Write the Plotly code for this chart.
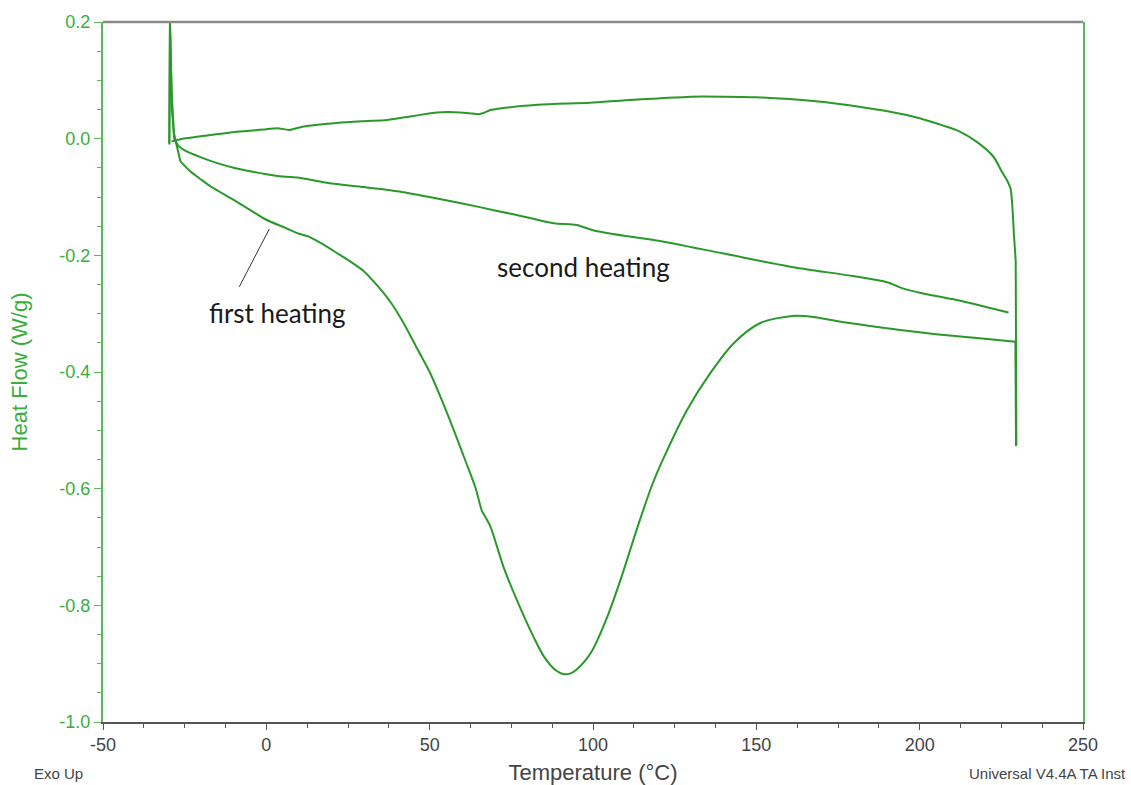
import plotly.graph_objects as go

# ---- data ----
first_T = [-29.7, -29.5, -29.0, -28.3, -27.5, -26.8, -26.3, -23.3, -20.0, -17.0, -10.0, -5.0, 0.0,
           5.0, 10.0, 13.0, 17.0, 21.6, 25.0, 30.0, 34.0, 38.0, 42.0, 46.0, 50.0, 54.0, 57.2,
           61.0, 64.0, 66.0, 67.0, 68.6, 72.6, 76.7, 81.8, 85.0, 88.5, 91.0, 93.0, 95.0, 99.5,
           104.0, 108.5, 113.5, 118.0, 121.0, 128.8, 135.9, 143.0, 151.2, 161.0, 168.0, 175.0,
           190.0, 200.0, 210.0, 220.0, 229.3, 229.5]
first_HF = [-0.008, 0.200, 0.080, 0.010, -0.010, -0.030, -0.039, -0.056, -0.070, -0.082, -0.105,
            -0.122, -0.139, -0.151, -0.163, -0.168, -0.180, -0.196, -0.208, -0.228, -0.252,
            -0.280, -0.316, -0.358, -0.400, -0.452, -0.497, -0.553, -0.598, -0.638, -0.648,
            -0.665, -0.734, -0.791, -0.854, -0.888, -0.911, -0.918, -0.917, -0.910, -0.880,
            -0.825, -0.755, -0.668, -0.595, -0.555, -0.465, -0.402, -0.351, -0.316, -0.304,
            -0.306, -0.313, -0.325, -0.332, -0.338, -0.343, -0.348, -0.527]

cool_T = [229.6, 229.4, 228.8, 228.3, 227.8, 226.7, 225.0, 222.6, 217.6, 212.0, 206.3, 200.0,
          191.0, 180.0, 170.5, 160.0, 150.0, 140.0, 130.0, 120.0, 110.0, 99.0, 83.0, 68.6,
          66.5, 65.0, 63.0, 59.4, 52.3, 45.0, 37.0, 30.0, 21.6, 11.4, 8.0, 6.8, 3.3, 0.0,
          -9.0, -20.0, -26.3, -29.0]
cool_HF = [-0.525, -0.210, -0.160, -0.110, -0.085, -0.071, -0.055, -0.031, -0.006, 0.013,
           0.024, 0.035, 0.046, 0.056, 0.063, 0.068, 0.071, 0.072, 0.072, 0.069, 0.066,
           0.0615, 0.058, 0.049, 0.044, 0.042, 0.043, 0.045, 0.045, 0.039, 0.032, 0.030,
           0.027, 0.021, 0.016, 0.015, 0.018, 0.016, 0.012, 0.004, -0.001, -0.005]

second_T = [-29.7, -29.5, -28.9, -28.2, -27.0, -25.0, -20.0, -15.0, -10.0, -5.0, 0.0, 5.0, 10.0,
            15.0, 20.0, 30.0, 40.0, 50.0, 60.0, 70.0, 80.0, 88.0, 95.0, 100.0, 110.0, 120.0,
            140.0, 160.0, 180.0, 190.0, 195.0, 200.0, 210.0, 220.0, 227.2]
second_HF = [-0.010, 0.200, 0.050, 0.000, -0.012, -0.020, -0.032, -0.042, -0.050, -0.056,
             -0.061, -0.065, -0.067, -0.072, -0.077, -0.083, -0.090, -0.100, -0.111, -0.123,
             -0.135, -0.145, -0.148, -0.157, -0.167, -0.175, -0.197, -0.219, -0.236, -0.246,
             -0.257, -0.264, -0.275, -0.288, -0.298]

x_ticks = [-50, 0, 50, 100, 150, 200, 250]
y_ticks = [0.2, 0.0, -0.2, -0.4, -0.6, -0.8, -1.0]

LINE = "#2a982a"
GREEN_TXT = "#3aae3a"
GRAY_TXT = "#444444"


def split_smooth(xs, ys, n_head, n_tail):
    """Return (straight head, smooth body, straight tail) pieces sharing endpoints."""
    body_start = n_head
    body_end = len(xs) - n_tail
    pieces = []
    if n_head:
        pieces.append((xs[:body_start + 1], ys[:body_start + 1], "linear"))
    pieces.append((xs[body_start:body_end], ys[body_start:body_end], "spline"))
    if n_tail:
        pieces.append((xs[body_end - 1:], ys[body_end - 1:], "linear"))
    return pieces


fig = go.Figure()
all_pieces = (split_smooth(first_T, first_HF, 6, 1)
              + split_smooth(cool_T, cool_HF, 2, 0)
              + split_smooth(second_T, second_HF, 4, 0))
for xs, ys, shape in all_pieces:
    fig.add_trace(go.Scatter(x=xs, y=ys, mode="lines",
                             line=dict(color=LINE, width=2, shape=shape, smoothing=0.8),
                             showlegend=False, hoverinfo="skip"))

fig.update_layout(
    width=1131, height=785,
    margin=dict(l=103, r=48, t=22, b=63),
    paper_bgcolor="white", plot_bgcolor="white",
    font=dict(family="Liberation Sans, Arial, sans-serif"),
    xaxis=dict(range=[-50, 250], tickvals=x_ticks, ticktext=[str(v) for v in x_ticks],
               automargin=False,
               showgrid=False, zeroline=False, showline=True, linecolor="#555555", linewidth=1.5,
               ticks="outside", ticklen=6, tickwidth=1.2, tickcolor="#555555",
               minor=dict(dtick=12.5, ticks="outside", ticklen=4, tickcolor="#555555", showgrid=False),
               tickfont=dict(size=18, color=GRAY_TXT),
               title=dict(text="Temperature (°C)", font=dict(size=22, color=GRAY_TXT), standoff=12)),
    yaxis=dict(range=[-1.0, 0.2], tickvals=y_ticks, ticktext=[f"{v:.1f}" for v in y_ticks],
               automargin=False,
               showgrid=False, zeroline=False, showline=True, linecolor="#5cb85c", linewidth=2,
               mirror=True,
               ticks="outside", ticklen=7, tickwidth=1.2, tickcolor="#5cb85c",
               minor=dict(dtick=0.05, ticks="outside", ticklen=4, tickcolor="#5cb85c", showgrid=False),
               tickfont=dict(size=18, color=GREEN_TXT),
               title=dict(text="Heat Flow (W/g)", font=dict(size=22, color=GREEN_TXT), standoff=26)),
)

# top border (gray)
fig.add_shape(type="line", xref="paper", yref="paper", x0=0, x1=1, y0=1, y1=1,
              line=dict(color="#8a8a8a", width=2.5))

# pointer line for "first heating"
fig.add_shape(type="line", xref="x", yref="y", x0=-8.3, y0=-0.254, x1=0.9, y1=-0.155,
              line=dict(color="#333333", width=1))

fig.add_annotation(x=3.4, y=-0.299, xref="x", yref="y", text="first heating", showarrow=False,
                   font=dict(family="Lato, Open Sans, sans-serif", size=26, color="#1a1a1a"))
fig.add_annotation(x=97.0, y=-0.220, xref="x", yref="y", text="second heating", showarrow=False,
                   font=dict(family="Lato, Open Sans, sans-serif", size=26, color="#1a1a1a"))

fig.add_annotation(x=-0.0724, y=-0.073, xref="paper", yref="paper", text="Exo Up",
                   showarrow=False, xanchor="left", yanchor="middle",
                   font=dict(size=15, color=GRAY_TXT))
fig.add_annotation(x=0.8816, y=-0.073, xref="paper", yref="paper", text="Universal V4.4A TA Inst",
                   showarrow=False, xanchor="left", yanchor="middle",
                   font=dict(size=15, color=GRAY_TXT))

fig.write_html("out.html")
